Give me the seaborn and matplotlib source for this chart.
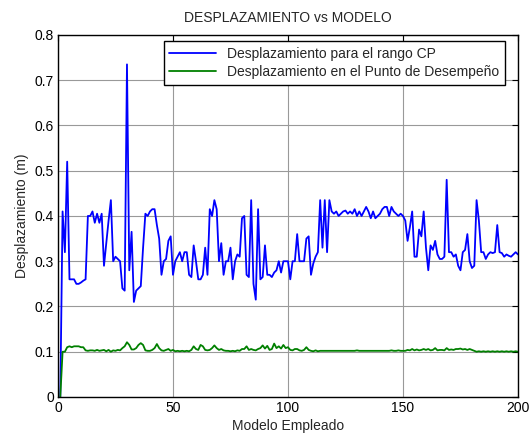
import numpy as np
import pandas as pd
import matplotlib
matplotlib.use("Agg")
import matplotlib.pyplot as plt
import seaborn as sns
from matplotlib.ticker import FuncFormatter

# ---------------- data ----------------
modelo = list(range(1, 201))

desp_cp = [
    0.0, 0.41, 0.32, 0.52, 0.26, 0.26, 0.26, 0.25, 0.25, 0.253,
    0.257, 0.26, 0.40, 0.40, 0.41, 0.385, 0.405, 0.385, 0.405, 0.29,
    0.34, 0.39, 0.435, 0.30, 0.31, 0.305, 0.30, 0.24, 0.235, 0.735,
    0.28, 0.365, 0.21, 0.235, 0.24, 0.245, 0.33, 0.405, 0.40, 0.41,
    0.415, 0.415, 0.38, 0.35, 0.27, 0.30, 0.305, 0.345, 0.355, 0.27,
    0.30, 0.31, 0.32, 0.30, 0.32, 0.32, 0.27, 0.265, 0.335, 0.30,
    0.26, 0.26, 0.27, 0.33, 0.27, 0.415, 0.40, 0.435, 0.415, 0.30,
    0.34, 0.27, 0.30, 0.30, 0.33, 0.26, 0.30, 0.315, 0.31, 0.395,
    0.40, 0.27, 0.265, 0.435, 0.25, 0.215, 0.415, 0.26, 0.265, 0.335,
    0.27, 0.27, 0.265, 0.275, 0.28, 0.30, 0.275, 0.30, 0.30, 0.30,
    0.26, 0.30, 0.30, 0.36, 0.30, 0.30, 0.30, 0.35, 0.355, 0.27,
    0.295, 0.31, 0.32, 0.435, 0.33, 0.435, 0.32, 0.435, 0.41, 0.405,
    0.41, 0.40, 0.405, 0.41, 0.412, 0.405, 0.41, 0.405, 0.415, 0.40,
    0.41, 0.40, 0.41, 0.42, 0.41, 0.395, 0.41, 0.395, 0.40, 0.405,
    0.415, 0.42, 0.42, 0.40, 0.42, 0.41, 0.405, 0.40, 0.405, 0.40,
    0.39, 0.345, 0.375, 0.41, 0.31, 0.31, 0.37, 0.355, 0.41, 0.33,
    0.28, 0.335, 0.325, 0.345, 0.315, 0.305, 0.305, 0.31, 0.48, 0.32,
    0.32, 0.31, 0.315, 0.29, 0.28, 0.32, 0.325, 0.36, 0.30, 0.285,
    0.29, 0.435, 0.39, 0.32, 0.32, 0.305, 0.315, 0.32, 0.318, 0.32,
    0.38, 0.32, 0.318, 0.31, 0.315, 0.312, 0.31, 0.315, 0.32, 0.315,
]

desp_pd = [
    0.0, 0.10, 0.10, 0.11, 0.112, 0.11, 0.112, 0.112, 0.112, 0.11,
    0.11, 0.103, 0.102, 0.103, 0.103, 0.102, 0.104, 0.102, 0.103, 0.104,
    0.101, 0.104, 0.100, 0.103, 0.102, 0.104, 0.103, 0.108, 0.112, 0.121,
    0.115, 0.105, 0.105, 0.108, 0.115, 0.119, 0.115, 0.103, 0.102, 0.102,
    0.104, 0.108, 0.117, 0.108, 0.103, 0.102, 0.104, 0.106, 0.102, 0.104,
    0.101, 0.102, 0.101, 0.102, 0.101, 0.102, 0.101, 0.104, 0.112, 0.106,
    0.104, 0.115, 0.112, 0.104, 0.103, 0.104, 0.108, 0.114, 0.108, 0.104,
    0.106, 0.103, 0.102, 0.102, 0.101, 0.102, 0.101, 0.103, 0.102, 0.106,
    0.106, 0.112, 0.104, 0.106, 0.104, 0.103, 0.106, 0.108, 0.114, 0.107,
    0.113, 0.104, 0.106, 0.118, 0.108, 0.112, 0.107, 0.115, 0.108, 0.110,
    0.104, 0.103, 0.106, 0.106, 0.103, 0.102, 0.104, 0.110, 0.104, 0.102,
    0.101, 0.103, 0.101, 0.102, 0.102, 0.102, 0.102, 0.102, 0.102, 0.102,
    0.102, 0.102, 0.102, 0.102, 0.102, 0.102, 0.102, 0.102, 0.102, 0.103,
    0.102, 0.102, 0.102, 0.102, 0.102, 0.102, 0.102, 0.102, 0.102, 0.102,
    0.102, 0.102, 0.102, 0.102, 0.103, 0.102, 0.102, 0.103, 0.102, 0.102,
    0.102, 0.104, 0.103, 0.106, 0.103, 0.105, 0.103, 0.104, 0.106, 0.104,
    0.106, 0.103, 0.104, 0.108, 0.103, 0.104, 0.104, 0.103, 0.108, 0.104,
    0.105, 0.104, 0.106, 0.106, 0.107, 0.105, 0.106, 0.104, 0.106, 0.104,
    0.102, 0.100, 0.101, 0.100, 0.101, 0.100, 0.101, 0.100, 0.101, 0.100,
    0.101, 0.100, 0.101, 0.100, 0.101, 0.100, 0.101, 0.100, 0.101, 0.100,
]

label_cp = "Desplazamiento para el rango CP"
label_pd = "Desplazamiento en el Punto de Desempeño"
x_ticks = [0, 50, 100, 150, 200]
y_ticks = [0, 0.1, 0.2, 0.3, 0.4, 0.5, 0.6, 0.7, 0.8]

# ---------------- plot ----------------
sns.set_style("white")
plt.rcParams['font.family'] = ['Liberation Sans', 'DejaVu Sans']

fig = plt.figure(figsize=(5.30, 4.34), dpi=100)
ax = fig.add_axes([0.1094, 0.0853, 0.8679, 0.8341])

sns.lineplot(x=modelo, y=desp_cp, color=(0, 0, 1), linewidth=1.3, label=label_cp, ax=ax)
sns.lineplot(x=modelo, y=desp_pd, color=(0, 0.5, 0), linewidth=1.3, label=label_pd, ax=ax)

ax.set_xlim(0, 200)
ax.set_ylim(0, 0.8)
ax.set_xticks(x_ticks)
ax.set_yticks(y_ticks)
fmt = FuncFormatter(lambda v, p: "%g" % round(v, 2))
ax.xaxis.set_major_formatter(fmt)
ax.yaxis.set_major_formatter(fmt)

ax.grid(True, color="#999999", linewidth=0.8, linestyle="-")
ax.set_axisbelow(True)
for s in ax.spines.values():
    s.set_color("black")
    s.set_linewidth(1.0)
ax.tick_params(direction="in", top=True, right=True, length=4, width=0.8,
               labelsize=10, colors="black", pad=3)

ax.set_title("DESPLAZAMIENTO vs MODELO", fontsize=10, pad=9)
ax.set_xlabel("Modelo Empleado", fontsize=10, labelpad=3)
ax.set_ylabel("Desplazamiento (m)", fontsize=10, labelpad=4)

leg = ax.legend(loc="upper right", bbox_to_anchor=(0.972, 0.982), fontsize=10,
                frameon=True, fancybox=False, edgecolor="black", framealpha=1,
                borderaxespad=0, handlelength=3.4, borderpad=0.4,
                labelspacing=0.3, handletextpad=0.8)
leg.get_frame().set_linewidth(1.0)

fig.savefig("out.png", dpi=100)
